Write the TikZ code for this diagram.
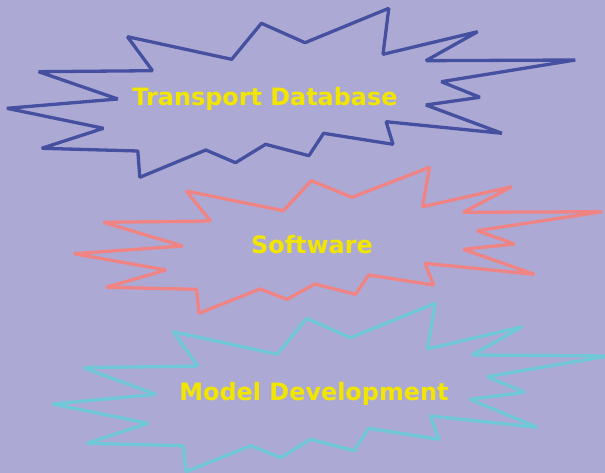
\documentclass[tikz,border=0pt]{standalone}
\usepackage{fontspec}
\setmainfont{DejaVu Sans}
\definecolor{bgcol}{HTML}{ACAAD4}
\definecolor{burstblue}{HTML}{4650A0}
\definecolor{burstpink}{HTML}{F08484}
\definecolor{burstcyan}{HTML}{70C8D8}
\definecolor{labelyellow}{HTML}{F2E600}
\tikzset{
  burst/.style={line width=3.3pt, line join=bevel},
  label/.style={text=labelyellow, font=\bfseries\fontsize{23.9}{28}\selectfont, anchor=base, inner sep=0pt}
}
\begin{document}
\begin{tikzpicture}[x=1pt,y=-1pt]
  % background and page size
  \fill[bgcol] (0,0) rectangle (605,473);
  \useasboundingbox (0,0) rectangle (605,473);
  \clip (0,0) rectangle (605,473);

  % top burst
  \draw[burst, burstblue]
    (127.4,36.7) -- (231.7,59.3) -- (261.4,23.3) -- (305,42.7) -- (388.8,8.3)
    -- (383,54.3) -- (477.6,31.7) -- (425.9,60.7) -- (575.3,60) -- (441.3,81.7)
    -- (479.9,97.3) -- (425.9,105) -- (501.9,133.3) -- (386.1,121.7) -- (393,144.3)
    -- (323.6,133.3) -- (308.9,155.7) -- (265.6,144.3) -- (235.5,162.7) -- (205.8,150)
    -- (139.8,177.3) -- (137.8,151) -- (41.7,148.3) -- (103.5,128.3) -- (6.9,108.3)
    -- (117.8,99) -- (38.6,71.7) -- (152.5,70.7) -- cycle;

  % middle burst
  \draw[burst, burstpink]
    (186.2,191) -- (283.5,210.7) -- (311.3,180.7) -- (352,197.3) -- (429.5,167.3)
    -- (422.5,206.7) -- (511.9,186.7) -- (463.2,212.3) -- (602.2,211.7) -- (477.1,230.7)
    -- (514.6,244) -- (463.2,249.3) -- (534.4,274.3) -- (425,263.3) -- (433.6,285)
    -- (368.7,275) -- (355.4,294.3) -- (314.8,284) -- (287,299.3) -- (259.9,289)
    -- (199,313.3) -- (196.6,289.3) -- (106.2,287.3) -- (166,270) -- (73.9,253.7)
    -- (182.7,246) -- (103.4,222.3) -- (210.5,221) -- cycle;

  % bottom burst
  \draw[burst, burstcyan]
    (173.3,331.7) -- (277.1,354.3) -- (306.7,318.3) -- (350.6,337.7) -- (435.3,303.3)
    -- (427.4,349) -- (522.2,326.7) -- (472.4,355) -- (608,356) -- (486.9,376.7)
    -- (524.7,392.3) -- (469.9,399.3) -- (537.3,427.3) -- (430.3,416) -- (438.9,439.3)
    -- (368.6,428.3) -- (354.2,450.7) -- (310.3,439.3) -- (280.7,457.7) -- (250.8,445.7)
    -- (186,471.7) -- (183.1,445.7) -- (86.8,443.3) -- (148.1,423.3) -- (52.6,404)
    -- (156,394.3) -- (83.2,367.7) -- (197.8,366) -- cycle;

  % labels
  \node[label] (transport) at (265,106) {Transport Database};
  \node[label] (software) at (312,254) {Software};
  \node[label] (model) at (314,400) {Model Development};
\end{tikzpicture}
\end{document}
